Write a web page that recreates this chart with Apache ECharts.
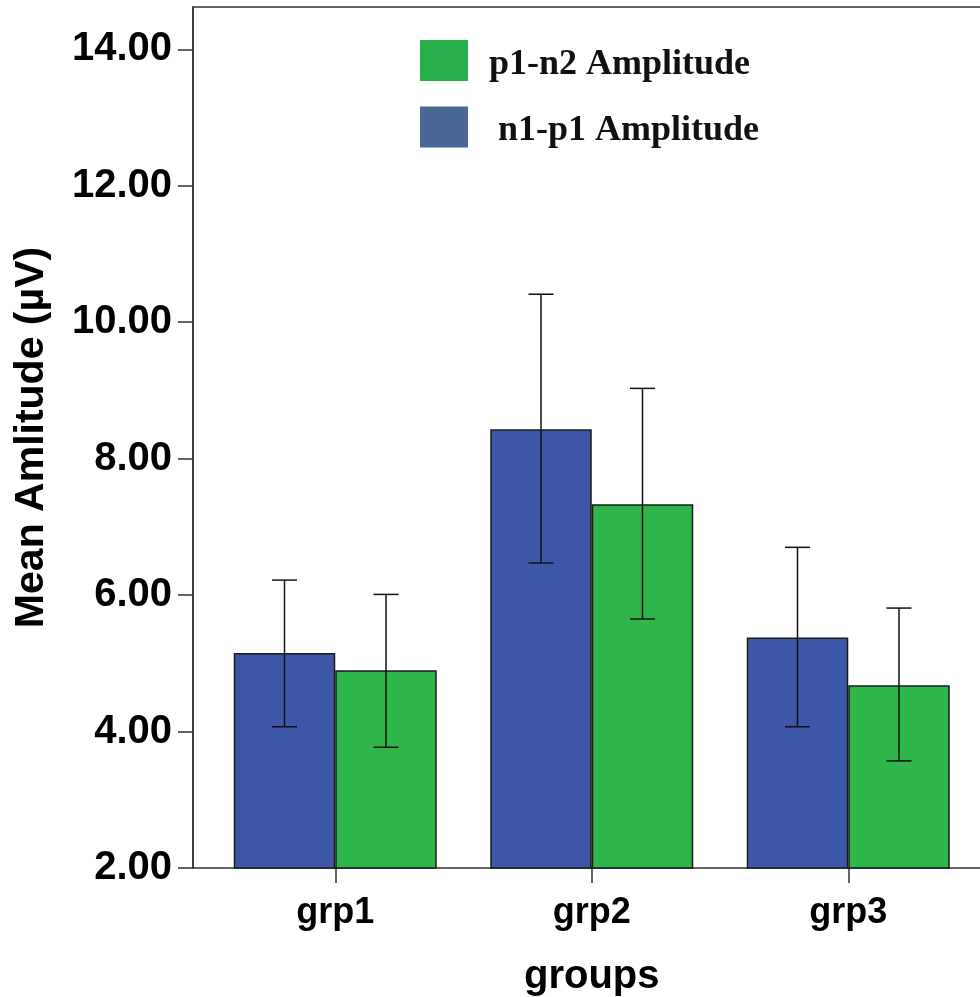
<!DOCTYPE html>
<html>
<head>
<meta charset="utf-8">
<script src="https://cdn.jsdelivr.net/npm/echarts@6/dist/echarts.min.js"></script>
<style>
html,body{margin:0;padding:0;background:#fff;}
#chart{width:980px;height:997px;}
</style>
</head>
<body>
<div id="chart"></div>
<script>
// ---- data ----
const categories = ['grp1', 'grp2', 'grp3'];
const n1p1Mean = [5.15, 8.43, 5.38];
const n1p1Low  = [4.07, 6.47, 4.07];
const n1p1High = [6.22, 10.41, 6.70];
const p1n2Mean = [4.90, 7.33, 4.68];
const p1n2Low  = [3.77, 5.65, 3.57];
const p1n2High = [6.01, 9.03, 5.81];
const yTicks = [2, 4, 6, 8, 10, 12, 14];
const yMin = 2, yMax = 14.62;

// ---- styles ----
const BAR_W = 101.5;
const blue = '#3d57a8', green = '#2fb64a';
const legendBlue = '#486795', legendGreen = '#27b04b';
const axisColor = '#333';

function errSeries(name, low, high, side) {
  return {
    type: 'custom',
    name: name,
    xAxisIndex: 0, yAxisIndex: 0,
    silent: true,
    z: 10,
    data: categories.map((c, i) => [i, low[i], high[i]]),
    renderItem: function (params, api) {
      const cx = api.coord([api.value(0), yMin])[0] + side * BAR_W / 2;
      const yl = api.coord([api.value(0), api.value(1)])[1];
      const yh = api.coord([api.value(0), api.value(2)])[1];
      const hw = 12.5;
      const st = { stroke: '#111', lineWidth: 1.5 };
      return {
        type: 'group',
        children: [
          { type: 'line', shape: { x1: cx, y1: yl, x2: cx, y2: yh }, style: st },
          { type: 'line', shape: { x1: cx - hw, y1: yh, x2: cx + hw, y2: yh }, style: st },
          { type: 'line', shape: { x1: cx - hw, y1: yl, x2: cx + hw, y2: yl }, style: st }
        ]
      };
    }
  };
}

const chart = echarts.init(document.getElementById('chart'), null, { renderer: 'canvas' });
chart.setOption({
  animation: false,
  backgroundColor: '#fff',
  grid: [
    { left: 207, right: 3.5, top: 7, bottom: 129, outerBoundsMode: 'none', containLabel: false },
    { left: 193, right: -20, top: 7, bottom: 129, outerBoundsMode: 'none', containLabel: false,
      show: true, borderColor: axisColor, borderWidth: 1.5, backgroundColor: 'transparent', z: 1 }
  ],
  legend: {
    orient: 'vertical',
    left: 415, top: 35,
    itemWidth: 48, itemHeight: 41, itemGap: 24,
    icon: 'rect',
    selectedMode: false,
    formatter: name => '{sp| }{t|' + name + '}',
    textStyle: {
      fontFamily: 'Liberation Serif', fontWeight: 'bold', fontSize: 36, color: '#111',
      rich: {
        sp: { width: 0, height: 44, fontSize: 10 },
        t: { fontFamily: 'Liberation Serif', fontWeight: 'bold', fontSize: 36, lineHeight: 36, color: '#111', verticalAlign: 'bottom' }
      }
    },
    data: [
      { name: 'p1-n2 Amplitude', icon: 'rect', itemStyle: { color: legendGreen, borderWidth: 0 }, textStyle: { padding: [0, 0, 0, 16] } },
      { name: 'n1-p1 Amplitude', icon: 'rect', itemStyle: { color: legendBlue, borderWidth: 0 }, textStyle: { padding: [0, 0, 0, 25] } }
    ]
  },
  xAxis: [
    {
      type: 'category', gridIndex: 0, data: categories,
      axisLine: { show: false },
      axisTick: { show: true, alignWithLabel: true, length: 15, lineStyle: { color: axisColor, width: 1.5 } },
      axisLabel: { fontFamily: 'Liberation Sans', fontWeight: 'bold', fontSize: 36, color: '#000', margin: 27 },
      name: 'groups', nameLocation: 'middle', nameGap: 89,
      nameTextStyle: { fontFamily: 'Liberation Sans', fontWeight: 'bold', fontSize: 40, color: '#000' }
    },
    { type: 'value', gridIndex: 1, show: false, min: 0, max: 1 }
  ],
  yAxis: [
    {
      type: 'value', gridIndex: 0, min: yMin, max: yMax, offset: 14,
      splitLine: { show: false },
      axisLine: { show: true, lineStyle: { color: axisColor, width: 1.5 } },
      axisTick: { show: true, length: 15, lineStyle: { color: axisColor, width: 1.5 }, customValues: yTicks },
      axisLabel: { fontFamily: 'Liberation Sans', fontWeight: 'bold', fontSize: 40, color: '#000', margin: 21,
        customValues: yTicks, formatter: v => v.toFixed(2) },
      name: 'Mean Amlitude (µV)', nameLocation: 'middle', nameGap: 141, nameRotate: 90,
      nameTextStyle: { fontFamily: 'Liberation Sans', fontWeight: 'bold', fontSize: 41, color: '#000' }
    },
    { type: 'value', gridIndex: 1, show: false, min: 0, max: 1 }
  ],
  series: [
    {
      type: 'bar', name: 'n1-p1 Amplitude', xAxisIndex: 0, yAxisIndex: 0,
      data: n1p1Mean, barWidth: BAR_W, barGap: '0%',
      itemStyle: { color: blue, borderColor: '#1a1a1a', borderWidth: 1.5 }
    },
    {
      type: 'bar', name: 'p1-n2 Amplitude', xAxisIndex: 0, yAxisIndex: 0,
      data: p1n2Mean, barWidth: BAR_W, barGap: '0%',
      itemStyle: { color: green, borderColor: '#1a1a1a', borderWidth: 1.5 }
    },
    errSeries('err1', n1p1Low, n1p1High, -1),
    errSeries('err2', p1n2Low, p1n2High, 1)
  ]
});
</script>
</body>
</html>
